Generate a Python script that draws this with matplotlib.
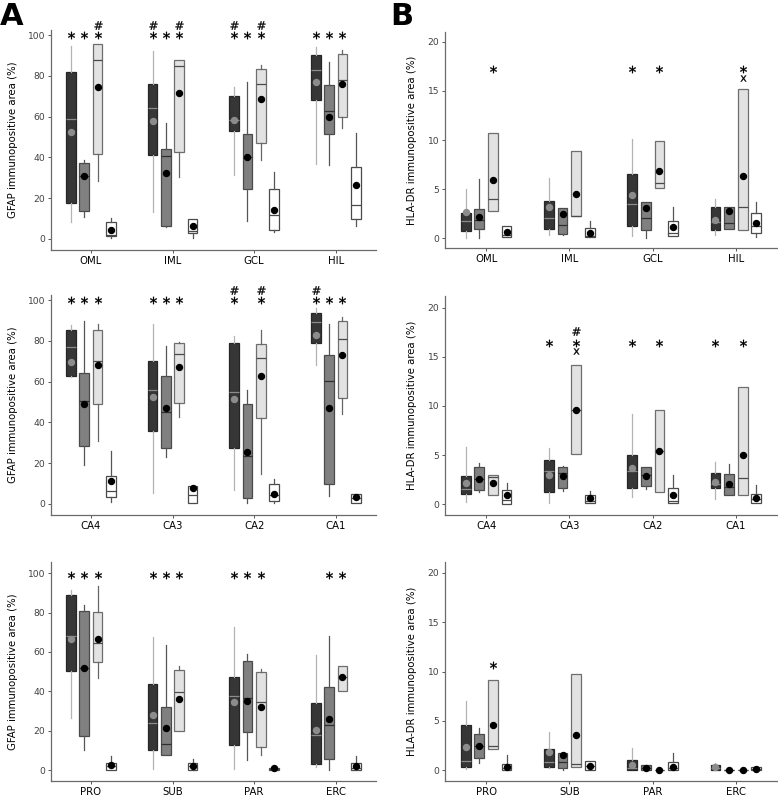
import matplotlib
matplotlib.use("Agg")
import matplotlib.pyplot as plt

plt.rcParams['font.family'] = ['DejaVu Sans']

# ---------------- categories ----------------
regions_dg = ["OML", "IML", "GCL", "HIL"]
regions_ca = ["CA4", "CA3", "CA2", "CA1"]
regions_ph = ["PRO", "SUB", "PAR", "ERC"]

ylabel_gfap = "GFAP immunopositive area (%)"
ylabel_hla = "HLA-DR immunopositive area (%)"
yticks_gfap = [0, 20, 40, 60, 80, 100]
yticks_hla = [0, 5, 10, 15, 20]

# rows = series (dark, medium, light, white), cols = regions
# ---------------- GFAP, dentate gyrus ----------------
A1_whishi = [[94.6, 92.2, 74.6, 94.1], [38.5, 57.1, 77.2, 87.0], [95.4, 87.6, 85.3, 92.5], [10.5, 10.0, 33.0, 52.2]]
A1_q3 = [[82.0, 75.9, 70.1, 90.2], [37.5, 44.0, 51.4, 75.5], [95.4, 87.6, 83.5, 90.5], [8.5, 9.8, 24.5, 35.4]]
A1_med = [[59.0, 64.4, 58.2, 82.7], [30.7, 40.5, 40.3, 62.8], [87.8, 84.8, 75.9, 77.8], [2.2, 4.1, 11.7, 16.8]]
A1_mean = [[52.5, 57.9, 58.2, 77.0], [30.7, 32.3, 40.3, 60.0], [74.7, 71.6, 68.8, 75.8], [4.3, 6.2, 14.4, 26.4]]
A1_q1 = [[17.6, 41.1, 53.0, 68.0], [13.9, 6.5, 24.5, 51.4], [41.6, 42.9, 47.0, 60.0], [1.5, 2.8, 4.4, 9.8]]
A1_whislo = [[8.2, 13.0, 31.5, 37.0], [10.6, 5.7, 8.6, 36.2], [28.5, 30.2, 38.7, 54.6], [0.7, 0.5, 3.6, 6.2]]

# ---------------- GFAP, CA ----------------
A2_whishi = [[87.8, 88.1, 82.5, 96.2], [89.7, 77.7, 56.0, 88.1], [88.1, 79.3, 85.3, 91.8], [25.8, 9.0, 12.2, 5.1]]
A2_q3 = [[85.3, 70.3, 79.1, 93.5], [64.1, 62.8, 48.9, 73.1], [85.3, 78.8, 78.3, 89.7], [13.5, 9.0, 9.8, 5.1]]
A2_med = [[77.2, 56.0, 54.8, 89.4], [50.6, 45.0, 23.7, 60.4], [70.1, 73.4, 71.5, 80.9], [6.5, 4.6, 4.6, 2.9]]
A2_mean = [[69.5, 52.7, 51.4, 82.9], [48.9, 47.0, 25.3, 47.0], [68.2, 67.0, 62.8, 73.1], [11.4, 7.8, 5.1, 3.3]]
A2_q1 = [[62.8, 35.6, 27.7, 79.1], [28.2, 27.4, 2.9, 10.0], [48.9, 49.4, 42.1, 51.9], [3.3, 0.7, 1.6, 0.5]]
A2_whislo = [[62.5, 5.4, 7.0, 68.2], [19.2, 23.0, 0.5, 3.8], [30.7, 42.9, 14.7, 44.2], [1.0, 0.7, 0.3, 0.5]]

# ---------------- GFAP, parahippocampal ----------------
A3_whishi = [[91.2, 67.5, 72.9, 58.5], [83.9, 63.6, 58.8, 68.1], [93.6, 53.0, 51.4, 53.0], [7.1, 5.9, 1.7, 7.3]]
A3_q3 = [[89.0, 43.7, 47.1, 33.9], [80.8, 31.9, 55.6, 42.0], [80.5, 50.8, 49.7, 53.0], [3.9, 3.7, 1.2, 3.7]]
A3_med = [[68.1, 24.2, 37.6, 17.8], [51.7, 13.2, 36.8, 22.9], [64.4, 39.5, 34.7, 47.1], [2.2, 2.0, 0.5, 1.4]]
A3_mean = [[66.6, 28.0, 34.4, 20.7], [51.7, 21.7, 35.3, 25.8], [66.6, 36.4, 32.2, 47.1], [2.9, 2.0, 1.2, 2.0]]
A3_q1 = [[50.5, 10.5, 13.0, 3.1], [17.3, 8.0, 19.5, 5.9], [54.7, 19.8, 11.9, 40.3], [0.0, 0.0, 0.0, 0.3]]
A3_whislo = [[26.6, 0.5, 0.5, 1.7], [10.5, 7.6, 5.4, 0.3], [46.6, 19.8, 7.6, 40.3], [0.0, 0.0, 0.0, 0.3]]

# ---------------- HLA-DR, dentate gyrus ----------------
B1_whishi = [[5.0, 6.1, 10.1, 4.0], [6.0, 3.1, 3.7, 3.2], [10.7, 8.9, 9.9, 15.2], [1.2, 1.7, 3.2, 3.7]]
B1_q3 = [[2.6, 3.8, 6.5, 3.2], [3.0, 3.1, 3.7, 3.2], [10.7, 8.9, 9.9, 15.2], [1.2, 1.0, 1.7, 2.6]]
B1_med = [[1.8, 2.1, 3.5, 1.6], [1.9, 1.3, 2.1, 1.5], [3.95, 2.3, 5.6, 3.2], [0.34, 0.27, 0.54, 1.2]]
B1_mean = [[2.7, 3.2, 4.4, 1.9], [2.2, 2.5, 3.1, 2.8], [5.9, 4.5, 6.8, 6.3], [0.6, 0.54, 1.1, 1.5]]
B1_q1 = [[0.7, 0.9, 1.2, 0.8], [0.95, 0.44, 0.85, 0.95], [2.8, 2.3, 5.1, 0.8], [0.1, 0.1, 0.27, 0.5]]
B1_whislo = [[0.0, 0.3, 0.2, 0.37], [0.0, 0.34, 0.0, 0.95], [2.8, 2.3, 5.1, 0.8], [0.1, 0.1, 0.2, 0.17]]

# ---------------- HLA-DR, CA ----------------
B2_whishi = [[5.8, 5.7, 9.2, 4.3], [4.2, 3.9, 3.8, 4.1], [3.0, 14.2, 9.6, 11.9], [2.2, 1.3, 3.0, 2.0]]
B2_q3 = [[2.9, 4.55, 4.96, 3.2], [3.8, 3.8, 3.8, 3.1], [3.0, 14.2, 9.6, 11.9], [1.4, 0.9, 1.7, 1.05]]
B2_med = [[1.5, 3.4, 3.4, 2.1], [2.6, 3.2, 3.0, 1.8], [2.8, 9.6, 5.4, 2.65], [0.44, 0.37, 0.37, 0.54]]
B2_mean = [[2.2, 3.0, 3.7, 2.3], [2.6, 2.85, 2.85, 2.1], [2.2, 9.6, 5.4, 5.06], [0.9, 0.6, 0.9, 0.65]]
B2_q1 = [[1.05, 1.2, 1.7, 1.6], [1.4, 1.6, 1.9, 0.95], [0.95, 5.1, 1.2, 0.95], [0.07, 0.1, 0.1, 0.1]]
B2_whislo = [[0.27, 0.1, 0.7, 0.54], [1.2, 1.3, 1.5, 0.95], [0.95, 5.1, 1.2, 0.95], [0.07, 0.1, 0.1, 0.1]]

# ---------------- HLA-DR, parahippocampal ----------------
B3_whishi = [[7.0, 3.9, 2.2, 0.7], [4.3, 1.7, 0.5, 0.0], [9.15, 9.7, 0.0, 0.0], [1.5, 0.9, 1.76, 0.27]]
B3_q3 = [[4.6, 2.1, 1.0, 0.5], [3.7, 1.7, 0.5, 0.0], [9.15, 9.7, 0.0, 0.0], [0.6, 0.9, 0.8, 0.27]]
B3_med = [[0.9, 0.8, 0.17, 0.24], [2.4, 0.85, 0.17, 0.0], [2.4, 0.6, 0.0, 0.0], [0.17, 0.4, 0.17, 0.1]]
B3_mean = [[2.3, 1.8, 0.5, 0.34], [2.4, 1.5, 0.17, 0.0], [4.6, 3.6, 0.0, 0.0], [0.34, 0.4, 0.34, 0.1]]
B3_q1 = [[0.27, 0.27, 0.0, 0.0], [1.2, 0.17, 0.0, 0.0], [2.1, 0.27, 0.0, 0.0], [0.0, 0.0, 0.0, 0.0]]
B3_whislo = [[0.07, 0.2, 0.0, 0.0], [0.7, 0.0, 0.0, 0.0], [2.1, 0.27, 0.0, 0.0], [0.0, 0.0, 0.0, 0.0]]

# ---------------- significance marks: (region, series, symbol, y) ----------------
A1_marks = [(0, 0, '*', 100), (0, 1, '*', 100), (0, 2, '*', 100), (0, 2, '#', 104.8),
            (1, 0, '*', 100), (1, 1, '*', 100), (1, 2, '*', 100), (1, 0, '#', 104.8), (1, 2, '#', 104.8),
            (2, 0, '*', 100), (2, 1, '*', 100), (2, 2, '*', 100), (2, 0, '#', 104.8), (2, 2, '#', 104.8),
            (3, 0, '*', 100), (3, 1, '*', 100), (3, 2, '*', 100)]
A2_marks = [(0, 0, '*', 100), (0, 1, '*', 100), (0, 2, '*', 100),
            (1, 0, '*', 100), (1, 1, '*', 100), (1, 2, '*', 100),
            (2, 0, '*', 100), (2, 2, '*', 100), (2, 0, '#', 104.8), (2, 2, '#', 104.8),
            (3, 0, '*', 100), (3, 1, '*', 100), (3, 2, '*', 100), (3, 0, '#', 104.8)]
A3_marks = [(0, 0, '*', 99), (0, 1, '*', 99), (0, 2, '*', 99),
            (1, 0, '*', 99), (1, 1, '*', 99), (1, 2, '*', 99),
            (2, 0, '*', 99), (2, 1, '*', 99), (2, 2, '*', 99),
            (3, 1, '*', 99), (3, 2, '*', 99)]
B1_marks = [(0, 2, '*', 17.2), (2, 0, '*', 17.2), (2, 2, '*', 17.2), (3, 2, '*', 17.2), (3, 2, 'x', 16.3)]
B2_marks = [(1, 0, '*', 16.4), (1, 2, '*', 16.4), (1, 2, '#', 17.6), (1, 2, 'x', 15.55),
            (2, 0, '*', 16.4), (2, 2, '*', 16.4), (3, 0, '*', 16.4), (3, 2, '*', 16.4)]
B3_marks = [(0, 2, '*', 10.7)]

# ---------------- styles ----------------
series_style = [
    dict(face='#363636', edge='#262626', med='#8c8c8c', whisk='#b3b3b3', mean='#8c8c8c'),
    dict(face='#808080', edge='#4a4a4a', med='#2e2e2e', whisk='#555555', mean='#000000'),
    dict(face='#e2e2e2', edge='#6e6e6e', med='#4a4a4a', whisk='#666666', mean='#000000'),
    dict(face='#ffffff', edge='#4a4a4a', med='#4a4a4a', whisk='#555555', mean='#000000'),
]
offsets = [-0.245, -0.082, 0.082, 0.245]
box_w = 0.118
sym_marker = {'*': r'$\ast$', '#': r'$\#$', 'x': r'$\mathrm{x}$'}
sym_size = {'*': 5.3, '#': 6.0, 'x': 4.3}

W, H = 778, 798
fig = plt.figure(figsize=(W / 100, H / 100), dpi=100)


def rect(left, right, top, bottom):
    return [left / W, (H - bottom) / H, (right - left) / W, (bottom - top) / H]


def draw_panel(r, regions, whishi, q3, med, mean, q1, whislo, marks, ylim, yticks, ylabel, ylabel_x):
    ax = fig.add_axes(r)
    for s in range(4):
        st = series_style[s]
        stats = []
        for g in range(len(regions)):
            stats.append(dict(med=med[s][g], q1=q1[s][g], q3=q3[s][g],
                              whislo=whislo[s][g], whishi=whishi[s][g],
                              mean=mean[s][g], fliers=[]))
        pos = [g + offsets[s] for g in range(len(regions))]
        ax.bxp(stats, positions=pos, widths=box_w, patch_artist=True,
               showmeans=True, showcaps=False, showfliers=False, manage_ticks=False,
               boxprops=dict(facecolor=st['face'], edgecolor=st['edge'], linewidth=0.9),
               medianprops=dict(color=st['med'], linewidth=0.9),
               whiskerprops=dict(color=st['whisk'], linewidth=0.9),
               meanprops=dict(marker='o', markerfacecolor=st['mean'],
                              markeredgecolor=st['mean'], markersize=4.3))
    for g, s, sym, y in marks:
        ax.plot([g + offsets[s]], [y], linestyle='none', marker=sym_marker[sym],
                markersize=sym_size[sym], color='black', markeredgewidth=0.2, clip_on=False)
    ax.set_xlim(-0.494, len(regions) - 1 + 0.494)
    ax.set_ylim(*ylim)
    ax.set_xticks(range(len(regions)))
    ax.set_xticklabels(regions, fontsize=7.3, color='black')
    ax.set_yticks(yticks)
    ax.set_yticklabels([str(t) for t in yticks], fontsize=6.6, color='#404040')
    ax.tick_params(axis='y', length=2.5, width=0.7, color='#555555', pad=1.5)
    ax.tick_params(axis='x', length=2, width=0.7, color='#555555', pad=2)
    for side in ['top', 'right']:
        ax.spines[side].set_visible(False)
    for side in ['left', 'bottom']:
        ax.spines[side].set_color('#6a6a6a')
        ax.spines[side].set_linewidth(0.9)
    ax.set_ylabel(ylabel, fontsize=7.3, color='black')
    ax.yaxis.set_label_coords(ylabel_x, 0.5)
    return ax


draw_panel(rect(50.7, 376, 30, 250), regions_dg, A1_whishi, A1_q3, A1_med, A1_mean, A1_q1, A1_whislo,
           A1_marks, (-5.4, 102.5), yticks_gfap, ylabel_gfap, -0.10)
draw_panel(rect(50.7, 376, 295, 515), regions_ca, A2_whishi, A2_q3, A2_med, A2_mean, A2_q1, A2_whislo,
           A2_marks, (-5.4, 102.5), yticks_gfap, ylabel_gfap, -0.10)
draw_panel(rect(50.7, 376, 562, 781), regions_ph, A3_whishi, A3_q3, A3_med, A3_mean, A3_q1, A3_whislo,
           A3_marks, (-5.4, 105.6), yticks_gfap, ylabel_gfap, -0.10)

draw_panel(rect(445, 777, 32, 248), regions_dg, B1_whishi, B1_q3, B1_med, B1_mean, B1_q1, B1_whislo,
           B1_marks, (-1.0, 21.0), yticks_hla, ylabel_hla, -0.085)
draw_panel(rect(445, 777, 296, 515), regions_ca, B2_whishi, B2_q3, B2_med, B2_mean, B2_q1, B2_whislo,
           B2_marks, (-1.1, 21.2), yticks_hla, ylabel_hla, -0.085)
draw_panel(rect(445, 777, 562, 781), regions_ph, B3_whishi, B3_q3, B3_med, B3_mean, B3_q1, B3_whislo,
           B3_marks, (-1.1, 21.1), yticks_hla, ylabel_hla, -0.085)

fig.text(0 / W, 1 - 2 / H, "A", fontsize=22, fontweight='bold', ha='left', va='top')
fig.text(390 / W, 1 - 2 / H, "B", fontsize=22, fontweight='bold', ha='left', va='top')

fig.savefig("out.png", dpi=100)
